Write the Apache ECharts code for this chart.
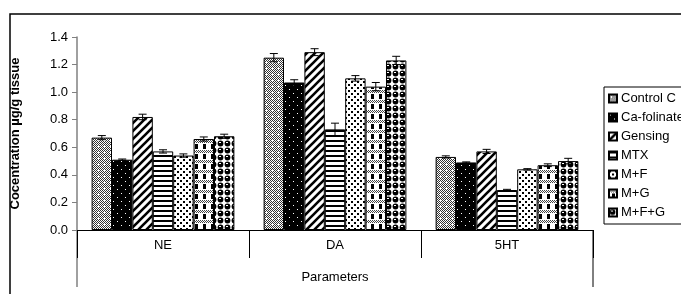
<!DOCTYPE html>
<html><head><meta charset="utf-8">
<script src="https://cdn.jsdelivr.net/npm/echarts@6/dist/echarts.min.js"></script>
<style>html,body{margin:0;padding:0;background:#fff}#c{width:681px;height:294px}</style>
</head><body><div id="c"></div>
<script>
const categories = ['NE', 'DA', '5HT'];
const seriesNames = ['Control C', 'Ca-folinate', 'Gensing', 'MTX', 'M+F', 'M+G', 'M+F+G'];
const controlC   = [0.67, 1.25, 0.53];
const caFolinate = [0.51, 1.07, 0.49];
const gensing    = [0.82, 1.29, 0.57];
const mtx        = [0.57, 0.73, 0.29];
const mF         = [0.54, 1.10, 0.44];
const mG         = [0.66, 1.04, 0.47];
const mFG        = [0.68, 1.23, 0.50];
const errControlC   = [0.015, 0.03, 0.008];
const errCaFolinate = [0.005, 0.02, 0.004];
const errGensing    = [0.02, 0.025, 0.015];
const errMtx        = [0.012, 0.045, 0.005];
const errMF         = [0.012, 0.02, 0.005];
const errMG         = [0.015, 0.03, 0.01];
const errMFG        = [0.015, 0.03, 0.02];
const yTicks = [0, 0.2, 0.4, 0.6, 0.8, 1.0, 1.2, 1.4];

const values = [controlC, caFolinate, gensing, mtx, mF, mG, mFG];
const errors = [errControlC, errCaFolinate, errGensing, errMtx, errMF, errMG, errMFG];

function tile(w, h, draw) {
  const c = document.createElement('canvas'); c.width = w; c.height = h;
  const g = c.getContext('2d'); draw(g, w, h); return c;
}
const patterns = [
  tile(6, 6, (g) => { // gray dither with white plus
    g.fillStyle = '#fff'; g.fillRect(0,0,6,6);
    g.fillStyle = '#333';
    for (let y=0;y<6;y++) for (let x=0;x<6;x++) if ((x+y)%2===0) g.fillRect(x,y,1,1);
    g.fillStyle = '#fff'; g.fillRect(2,1,1,3); g.fillRect(1,2,3,1);
  }),
  tile(8, 8, (g) => { // black with white dots
    g.fillStyle = '#000'; g.fillRect(0,0,8,8);
    g.fillStyle = '#fff'; g.fillRect(1,1,1,1); g.fillRect(5,5,1,1);
  }),
  tile(8, 8, (g) => { // diagonal stripes
    g.fillStyle = '#fff'; g.fillRect(0,0,8,8);
    g.strokeStyle = '#000'; g.lineWidth = 2.6;
    g.beginPath(); g.moveTo(-2,10); g.lineTo(10,-2); g.moveTo(-2,2); g.lineTo(2,-2); g.moveTo(6,10); g.lineTo(10,6); g.stroke();
  }),
  tile(5, 5, (g) => { // horizontal stripes
    g.fillStyle = '#fff'; g.fillRect(0,0,5,5);
    g.fillStyle = '#000'; g.fillRect(0,0,5,2);
  }),
  tile(6, 6, (g) => { // white with black dots
    g.fillStyle = '#fff'; g.fillRect(0,0,6,6);
    g.fillStyle = '#000'; g.fillRect(0,0,2,2); g.fillRect(3,3,2,2);
  }),
  tile(8, 10, (g) => { // plaid
    g.fillStyle = '#fff'; g.fillRect(0,0,8,10);
    g.fillStyle = '#444';
    for (let x=0;x<8;x++) for (let y=0;y<3;y++) if ((x+y)%2===0) g.fillRect(x,y,1,1);
    g.fillStyle = '#000'; g.fillRect(3,4,3,5);
  }),
  tile(7, 7, (g) => { // circles
    g.fillStyle = '#fff'; g.fillRect(0,0,7,7);
    g.fillStyle = '#000';
    g.beginPath(); g.arc(3.5,3.5,2.9,0,Math.PI*2); g.fill();
    g.fillStyle = '#fff'; g.fillRect(2,2,2,1);
  })
];

const gapRatio = 0.17;
const GL = 77, GT = 37, GR = 88, GB = 64;
const W = 681, H = 294;

const barSeries = seriesNames.map((name, i) => ({
  name, type: 'bar', data: values[i],
  barGap: '0%', barCategoryGap: '17%',
  itemStyle: { color: { image: patterns[i], repeat: 'repeat' }, borderColor: '#000', borderWidth: 1 },
  emphasis: { disabled: true }, animation: false, z: 2
}));
const errSeries = seriesNames.map((name, i) => ({
  type: 'custom', name: name + ' err', silent: true, animation: false, z: 5,
  data: categories.map((c, ci) => [ci, values[i][ci], errors[i][ci]]),
  encode: { x: 0, y: 1 },
  renderItem(params, api) {
    const ci = api.value(0), v = api.value(1), e = api.value(2);
    const band = api.size([1, 0])[0];
    const bw = band * (1 - gapRatio) / seriesNames.length;
    const x = api.coord([ci, v])[0] + (i - (seriesNames.length - 1) / 2) * bw;
    const yt = api.coord([ci, v + e])[1], yb = api.coord([ci, v - e])[1];
    const st = { stroke: '#000', lineWidth: 1 };
    return { type: 'group', children: [
      { type: 'line', shape: { x1: x, y1: yt, x2: x, y2: yb }, style: st },
      { type: 'line', shape: { x1: x - 4, y1: yt, x2: x + 4, y2: yt }, style: st },
      { type: 'line', shape: { x1: x - 4, y1: yb, x2: x + 4, y2: yb }, style: st }
    ]};
  }
}));

const font = 'Liberation Sans, Arial, sans-serif';
const chart = echarts.init(document.getElementById('c'), null, { renderer: 'canvas' });
chart.setOption({
  animation: false,
  backgroundColor: '#fff',
  textStyle: { fontFamily: font, color: '#000' },
  grid: { left: GL, top: GT, right: GR, bottom: GB, containLabel: false },
  legend: {
    data: seriesNames, orient: 'vertical', left: 604, top: 87,
    icon: 'rect', itemWidth: 8, itemHeight: 8, itemGap: 4,
    padding: [4, 6, 4, 4], borderColor: '#000', borderWidth: 1,
    textStyle: { fontFamily: font, fontSize: 13, color: '#000', lineHeight: 15, padding: [0, 0, 0, -1] },
    selectedMode: false
  },
  xAxis: {
    type: 'category', data: categories,
    name: 'Parameters', nameLocation: 'middle', nameGap: 41,
    nameTextStyle: { fontFamily: font, fontSize: 13, color: '#000' },
    axisLine: { lineStyle: { color: '#000', width: 1 } },
    axisTick: { show: true, length: 28, interval: 0, lineStyle: { color: '#000' } },
    axisLabel: { fontFamily: font, fontSize: 13, color: '#000', margin: 9 }
  },
  yAxis: {
    type: 'value', min: yTicks[0], max: yTicks[yTicks.length - 1], interval: 0.2,
    name: 'Cocentration µg/g tissue', nameLocation: 'middle', nameGap: 55,
    nameTextStyle: { fontFamily: font, fontSize: 13, fontWeight: 'bold', color: '#000' },
    splitLine: { show: false },
    axisLine: { show: true, lineStyle: { color: '#808080', width: 1.5 } },
    axisTick: { show: true, length: 5, lineStyle: { color: '#808080' } },
    axisLabel: { fontFamily: font, fontSize: 13, color: '#000', margin: 9, formatter: v => v.toFixed(1) }
  },
  series: [...barSeries, ...errSeries],
  graphic: [
    { type: 'rect', shape: { x: 10, y: 14, width: 800, height: 400 }, style: { fill: 'none', stroke: '#000', lineWidth: 1.5 }, silent: true, z: -1 },
    { type: 'line', shape: { x1: GL, y1: H - GB, x2: GL, y2: H - 7 }, style: { stroke: '#808080', lineWidth: 1.5 }, silent: true },
    { type: 'line', shape: { x1: W - GR, y1: H - GB, x2: W - GR, y2: H - 7 }, style: { stroke: '#000', lineWidth: 1 }, silent: true }
  ]
});
</script></body></html>
